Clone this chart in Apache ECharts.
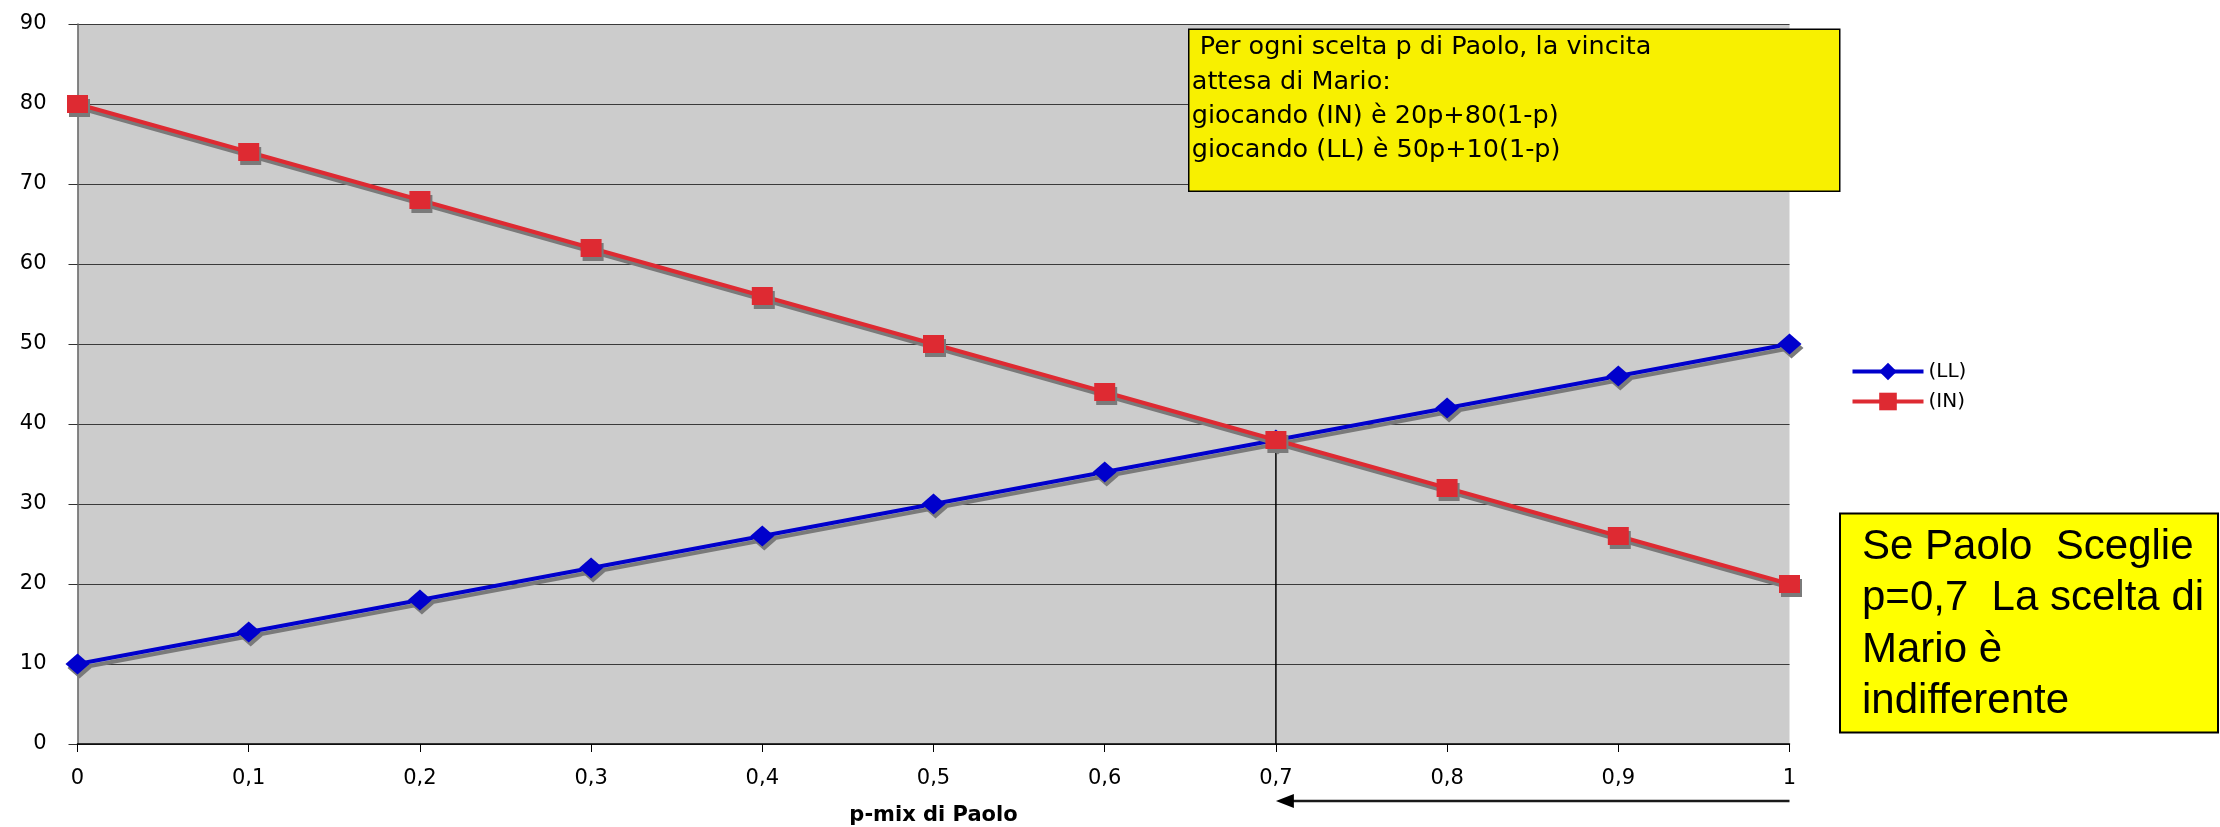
<!DOCTYPE html>
<html>
<head>
<meta charset="utf-8">
<script src="https://cdn.jsdelivr.net/npm/echarts@6/dist/echarts.min.js"></script>
<style>
html,body{margin:0;padding:0;background:#fff;}
#c{width:2220px;height:827px;}
</style>
</head>
<body>
<div id="c"></div>
<script>
// ---- data ----
const pValues = [0, 0.1, 0.2, 0.3, 0.4, 0.5, 0.6, 0.7, 0.8, 0.9, 1];
const llValues = [10, 14, 18, 22, 26, 30, 34, 38, 42, 46, 50];
const inValues = [80, 74, 68, 62, 56, 50, 44, 38, 32, 26, 20];
const seriesNames = ['(LL)', '(IN)'];
const xAxisName = 'p-mix di Paolo';
const indiffP = 0.7;
const indiffValue = 38;
const arrowFromP = 1;
const arrowToP = 0.7;
const noteTopLines = [' Per ogni scelta p di Paolo, la vincita', 'attesa di Mario:', 'giocando (IN) è 20p+80(1-p)', 'giocando (LL) è 50p+10(1-p)'];
const noteBottomLines = ['Se Paolo  Sceglie', 'p=0,7  La scelta di', 'Mario è', 'indifferente'];

const FONT = 'DejaVu Sans';
const BLUE = '#0000cc';
const RED = '#de2a32';
const chart = echarts.init(document.getElementById('c'), null, {renderer: 'canvas'});

function pair(xs, ys) { return xs.map((x, i) => [x, ys[i]]); }

const option = {
  animation: false,
  backgroundColor: '#ffffff',
  grid: {left: 77.5, right: 430.5, top: 24, bottom: 83, containLabel: false, outerBoundsMode: 'none',
    show: true, backgroundColor: '#cccccc', borderWidth: 0},
  legend: {
    left: 1850.5, top: 361.5, padding: 0, orient: 'vertical', itemWidth: 71, itemHeight: 22, itemGap: 10,
    textStyle: {fontFamily: FONT, fontSize: 20, color: '#000'},
    data: [
      {name: seriesNames[0], lineStyle: {width: 4, color: BLUE, shadowBlur: 0, shadowOffsetX: 0, shadowOffsetY: 0, shadowColor: 'transparent'},
        itemStyle: {color: BLUE, shadowColor: 'transparent'}},
      {name: seriesNames[1], lineStyle: {width: 4, color: RED, shadowBlur: 0, shadowOffsetX: 0, shadowOffsetY: 0, shadowColor: 'transparent'},
        itemStyle: {color: RED, shadowColor: 'transparent'}}
    ]
  },
  xAxis: {
    type: 'value', min: 0, max: 1, interval: 0.1,
    name: xAxisName, nameLocation: 'middle', nameGap: 61,
    nameTextStyle: {fontFamily: FONT, fontSize: 21, fontWeight: 'bold', color: '#000'},
    axisLine: {show: true, onZero: false, lineStyle: {color: '#000', width: 1.5}},
    axisTick: {show: true, length: 8, lineStyle: {color: '#000'}},
    splitLine: {show: false},
    axisLabel: {fontFamily: FONT, fontSize: 21, color: '#000', margin: 24,
      formatter: v => String(+v.toFixed(1)).replace('.', ',')}
  },
  yAxis: {
    type: 'value', min: 0, max: 90, interval: 10,
    axisLine: {show: true, lineStyle: {color: '#666', width: 1.5}},
    axisTick: {show: true, length: 9, lineStyle: {color: '#333'}},
    splitLine: {show: true, lineStyle: {color: '#3a3a3a', width: 1.2}},
    axisLabel: {fontFamily: FONT, fontSize: 21, color: '#000', margin: 31, padding: [0, 0, 10, 0]}
  },
  series: [
    {
      name: seriesNames[0], type: 'line', data: pair(pValues, llValues),
      symbol: 'diamond', symbolSize: [24, 21], z: 3,
      lineStyle: {color: BLUE, width: 4, shadowColor: '#7a7a7a', shadowOffsetX: 2, shadowOffsetY: 4, shadowBlur: 0},
      itemStyle: {color: BLUE, shadowColor: '#7a7a7a', shadowOffsetX: 2, shadowOffsetY: 4, shadowBlur: 0}
    },
    {
      name: seriesNames[1], type: 'line', data: pair(pValues, inValues),
      symbol: 'rect', symbolSize: [21, 18], z: 4,
      lineStyle: {color: RED, width: 4, shadowColor: '#7a7a7a', shadowOffsetX: 2, shadowOffsetY: 4, shadowBlur: 0},
      itemStyle: {color: RED, shadowColor: '#7a7a7a', shadowOffsetX: 2, shadowOffsetY: 4, shadowBlur: 0}
    },
    {
      name: 'indiff', type: 'line', data: [[indiffP, indiffValue], [indiffP, 0]],
      symbol: 'none', z: 2, silent: true,
      lineStyle: {color: '#000', width: 1.5}
    }
  ]
};
chart.setOption(option);

// annotations positioned through the chart's scales
const aFrom = chart.convertToPixel({gridIndex: 0}, [arrowFromP, 0]);
const aTo = chart.convertToPixel({gridIndex: 0}, [arrowToP, 0]);
const arrowY = aFrom[1] + 57;

chart.setOption({
  graphic: [
    {
      type: 'line', z: 10,
      shape: {x1: aFrom[0], y1: arrowY, x2: aTo[0] + 14, y2: arrowY},
      style: {stroke: '#1a1a1a', lineWidth: 2.5}
    },
    {
      type: 'polygon', z: 10,
      shape: {points: [[aTo[0], arrowY], [aTo[0] + 18, arrowY - 7], [aTo[0] + 18, arrowY + 7]]},
      style: {fill: '#000'}
    },
    {
      type: 'group', left: 1188, top: 28.5, z: 20,
      children: [
        {type: 'rect', shape: {x: 0, y: 0, width: 651, height: 162}, style: {fill: '#f8f000', stroke: '#000', lineWidth: 1.5}},
        {type: 'text', x: 3, y: 1.5, style: {text: noteTopLines.join('\n'), font: '25.5px "DejaVu Sans"', fill: '#000', lineHeight: 34.2, verticalAlign: 'top'}}
      ]
    },
    {
      type: 'group', left: 1839, top: 512.5, z: 20,
      children: [
        {type: 'rect', shape: {x: 0, y: 0, width: 378, height: 219}, style: {fill: '#ffff00', stroke: '#000', lineWidth: 2}},
        {type: 'text', x: 22, y: 8, style: {text: noteBottomLines.join('\n'), font: '42px "Liberation Sans"', fill: '#000', lineHeight: 51.5, verticalAlign: 'top'}}
      ]
    }
  ]
});
</script>
</body>
</html>
